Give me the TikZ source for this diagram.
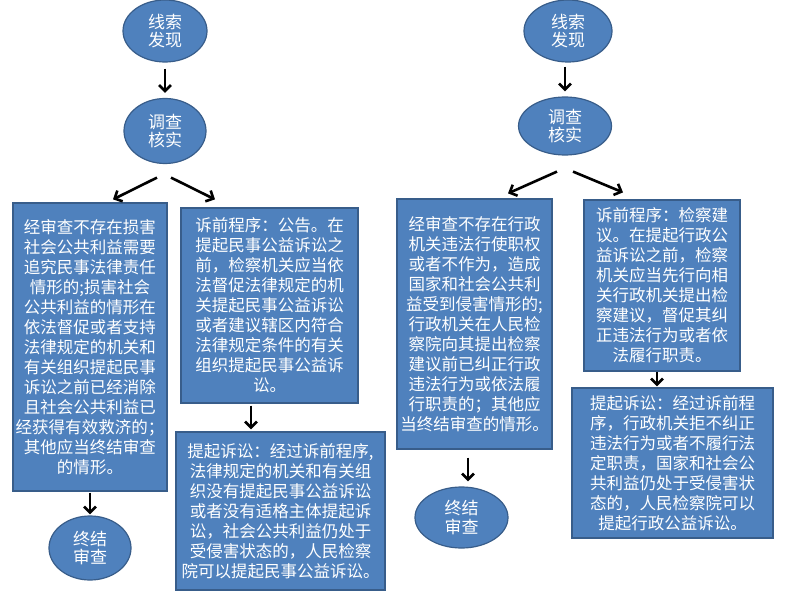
\documentclass[tikz,border=0pt]{standalone}
\usepackage{fontspec}
\newfontfamily\cjk{Noto Sans CJK SC}
\usetikzlibrary{shapes.geometric,arrows.meta}
\definecolor{boxblue}{HTML}{4F81BD}
\definecolor{boxedge}{HTML}{385D8A}
\begin{document}
\begin{tikzpicture}[x=1pt,y=-1pt,
bubble/.style = {ellipse,
	draw=boxedge, line width=1.2pt,
	fill=boxblue, text=white,
	inner sep=0pt, align=center,
	font=\cjk\fontsize{17}{18.5}\selectfont},
panel/.style = {rectangle,
	draw=boxedge, line width=1.2pt,
	fill=boxblue, text=white,
	inner sep=0pt, align=center,
	font=\cjk\fontsize{16.5}{20}\selectfont},
flow/.style = {line width=2.6pt,
	-{Straight Barb[length=6pt,width=12pt]}}]

\useasboundingbox (0,0) rectangle (795,596);

% civil public interest litigation
\node (L1) at (165,31) [bubble, minimum width=84pt, minimum height=62pt] {线索\\发现};
\node (L2) at (165,131) [bubble, minimum width=82pt, minimum height=65pt] {调查\\核实};
\node (La) at (90,347) [panel, minimum width=154pt, minimum height=288pt]
{经审查不存在损害\\社会公共利益需要\\追究民事法律责任\\情形的;损害社会\\公共利益的情形在\\依法督促或者支持\\法律规定的机关和\\有关组织提起民事\\诉讼之前已经消除\\且社会公共利益已\\经获得有效救济的；\\其他应当终结审查\\的情形。};
\node (Lb) at (269.5,305.5) [panel, minimum width=177pt, minimum height=195pt]
{诉前程序：公告。在\\提起民事公益诉讼之\\前，检察机关应当依\\法督促法律规定的机\\关提起民事公益诉讼\\或者建议辖区内符合\\法律规定条件的有关\\组织提起民事公益诉\\讼。};
\node (Lc) at (280.5,511) [panel, minimum width=209pt, minimum height=158pt]
{提起诉讼：经过诉前程序,\\法律规定的机关和有关组\\织没有提起民事公益诉讼\\或者没有适格主体提起诉\\讼，社会公共利益仍处于\\受侵害状态的，人民检察\\院可以提起民事公益诉讼。};
\node (Lend) at (90,548) [bubble, minimum width=82pt, minimum height=64pt] {终结\\审查};

% administrative public interest litigation
\node (R1) at (568,31) [bubble, minimum width=88pt, minimum height=62pt] {线索\\发现};
\node (R2) at (565,126) [bubble, minimum width=93pt, minimum height=58pt] {调查\\核实};
\node (Ra) at (474.5,324) [panel, minimum width=155pt, minimum height=250pt]
{经审查不存在行政\\机关违法行使职权\\或者不作为，造成\\国家和社会公共利\\益受到侵害情形的;\\行政机关在人民检\\察院向其提出检察\\建议前已纠正行政\\违法行为或依法履\\行职责的；其他应\\当终结审查的情形。};
\node (Rb) at (662,285.5) [panel, minimum width=156pt, minimum height=171pt]
{诉前程序：检察建\\议。在提起行政公\\益诉讼之前，检察\\机关应当先行向相\\关行政机关提出检\\察建议，督促其纠\\正违法行为或者依\\法履行职责。};
\node (Rc) at (672.5,463) [panel, minimum width=201pt, minimum height=150pt]
{提起诉讼：经过诉前程\\序，行政机关拒不纠正\\违法行为或者不履行法\\定职责，国家和社会公\\共利益仍处于受侵害状\\态的，人民检察院可以\\提起行政公益诉讼。};
\node (Rend) at (461.5,517.5) [bubble, minimum width=93pt, minimum height=61pt] {终结\\审查};

\draw[flow, shorten <=6pt, shorten >=5pt] (L1.south) -- (L2.north);
\draw[flow] ([shift={(-8,13.5)}]L2.south) -- ([shift={(23,-3)}]La.north);
\draw[flow] ([shift={(6,13.5)}]L2.south) -- ([shift={(-54.5,-8)}]Lb.north);
\draw[flow, shorten <=2pt, shorten >=2pt] ([xshift=-18.5pt]Lb.south) -- ([xshift=-18.5pt]Lb.south |- Lc.north);
\draw[flow, shorten <=1pt, shorten >=1pt] (La.south) -- (Lend.north);

\draw[flow, shorten <=4pt, shorten >=5pt] (R1.south -| R2.north) -- (R2.north);
\draw[flow] ([shift={(-8,16)}]R2.south) -- ([shift={(33.5,-5)}]Ra.north);
\draw[flow] ([shift={(8,16)}]R2.south) -- ([shift={(-39,-7)}]Rb.north);
\draw[flow, shorten >=1pt] ([xshift=-5pt]Rb.south) -- ([xshift=-5pt]Rb.south |- Rc.north);
\draw[flow, shorten <=8pt, shorten >=5pt] ([xshift=-6.5pt]Ra.south) -- ([xshift=-6.5pt]Ra.south |- Rend.north);
\end{tikzpicture}
\end{document}
